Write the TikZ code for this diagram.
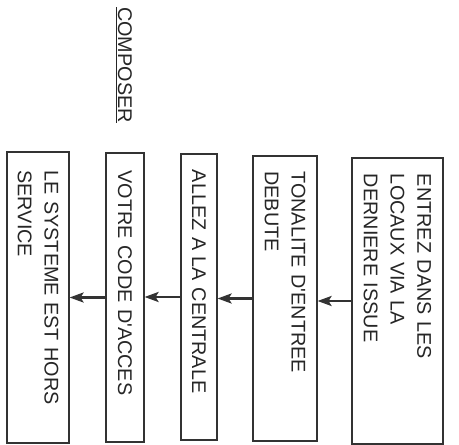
\documentclass[tikz,border=0pt]{standalone}
\usepackage{fontspec}
\setmainfont{Liberation Sans}
\usetikzlibrary{arrows.meta}
\tikzset{
		box/.style={draw=black!80, line width=1.1pt, rotate=-90, inner sep=0pt,
			text width=254pt, align=left, text=black!85,
			font=\fontsize{19.8}{26.7}\selectfont},
		arr/.style={-{Stealth[length=14pt,width=10pt,inset=3pt]}, draw=black!80, fill=black!80, line width=2.6pt}
	}

\begin{document}
\begin{tikzpicture}[x=1pt, y=1pt]
		\useasboundingbox (0,0) rectangle (459,445);
		\node[rotate=-90, anchor=base west, inner sep=0pt, text=black!85,
			font=\fontsize{19.8}{26.7}\selectfont] (composer) at (118,438) {\underline{COMPOSER}};
		\node[box, minimum width=291pt, minimum height=62pt] (horsservice) at (38,147.5)
			{LE SYSTEME EST HORS\\SERVICE};
		\node[box, minimum width=289pt, minimum height=38pt] (codeacces) at (125,147.5)
			{VOTRE CODE D\textquotesingle ACCES};
		\node[box, minimum width=286pt, minimum height=36pt] (centrale) at (199,148)
			{ALLEZ A LA CENTRALE};
		\node[box, minimum width=285pt, minimum height=64pt] (tonalite) at (285,146.5)
			{TONALITE D\textquotesingle ENTREE\\DEBUTE};
		\node[box, minimum width=286pt, minimum height=91pt] (entrez) at (397.5,144)
			{ENTREZ DANS LES\\LOCAUX VIA LA\\DERNIERE ISSUE};
		\draw[arr] (entrez.south) -- (entrez.south -| tonalite.north);
		\draw[arr] (tonalite.south) -- (tonalite.south -| centrale.north);
		\draw[arr] (centrale.south) -- (centrale.south -| codeacces.north);
		\draw[arr] (codeacces.south) -- (codeacces.south -| horsservice.north);
	\end{tikzpicture}
\end{document}
